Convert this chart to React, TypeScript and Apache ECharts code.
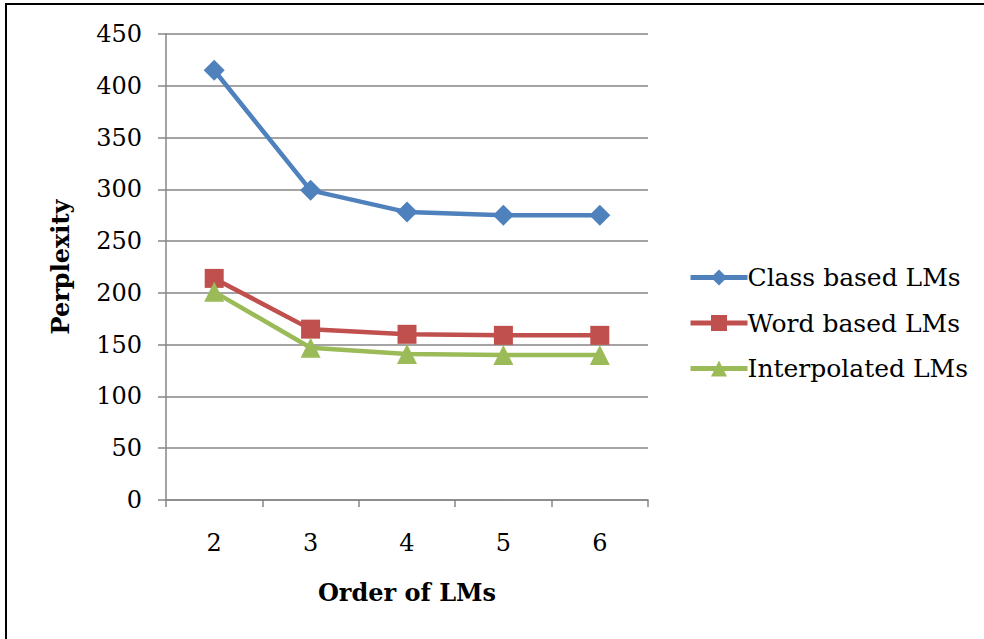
import React, { useEffect, useRef } from "react";
import * as echarts from "echarts";

const categories = ["2", "3", "4", "5", "6"];
const classBased = [415, 299, 278, 275, 275];
const wordBased = [214, 165, 160, 159, 159];
const interpolated = [201, 147, 141, 140, 140];
const seriesNames = ["Class based LMs", "Word based LMs", "Interpolated LMs"];

const FONT = "DejaVu Serif";

export default function App() {
  const ref = useRef<HTMLDivElement>(null);
  useEffect(() => {
    if (!ref.current) return;
    const chart = echarts.init(ref.current, null, { renderer: "svg" });
    const gray = "#868686";
    const mk = (name: string, data: number[], color: string, symbol: string, size: number) => ({
      name,
      type: "line",
      data,
      symbol,
      symbolSize: size,
      lineStyle: { color, width: 4.5 },
      itemStyle: { color },
    });
    chart.setOption({
      animation: false,
      backgroundColor: "#ffffff",
      textStyle: { fontFamily: FONT },
      grid: { left: 166, right: 336, top: 34, bottom: 139 },
      legend: {
        orient: "vertical",
        left: 688,
        top: 265,
        padding: 0,
        itemWidth: 57,
        itemHeight: 20,
        itemGap: 20.5,
        lineStyle: { width: 5 },
        textStyle: { fontFamily: FONT, fontSize: 25, color: "#000", padding: [0, 0, 0, -5] },
        data: seriesNames,
      },
      xAxis: {
        type: "category",
        data: categories,
        boundaryGap: true,
        name: "Order of LMs",
        nameLocation: "middle",
        nameGap: 80,
        nameTextStyle: { fontFamily: FONT, fontSize: 24, fontWeight: "bold", color: "#000" },
        axisLine: { lineStyle: { color: gray, width: 1.5 } },
        axisTick: { show: true, length: 7, lineStyle: { color: gray, width: 1.5 } },
        axisLabel: { fontFamily: FONT, fontSize: 24, color: "#000", margin: 31 },
        splitLine: { show: false },
      },
      yAxis: {
        type: "value",
        min: 0,
        max: 450,
        interval: 50,
        name: "Perplexity",
        nameLocation: "middle",
        nameGap: 94,
        nameRotate: 90,
        nameTextStyle: { fontFamily: FONT, fontSize: 24, fontWeight: "bold", color: "#000" },
        axisLine: { show: true, lineStyle: { color: gray, width: 1.5 } },
        axisTick: { show: true, length: 8, lineStyle: { color: gray, width: 1.5 } },
        axisLabel: { fontFamily: FONT, fontSize: 24, color: "#000", margin: 24 },
        splitLine: { show: true, lineStyle: { color: gray, width: 1.5 } },
      },
      series: [
        mk(seriesNames[0], classBased, "#4F81BD", "diamond", 21),
        mk(seriesNames[1], wordBased, "#C0504D", "rect", 19),
        mk(seriesNames[2], interpolated, "#9BBB59", "triangle", 20),
      ],
      graphic: [
        {
          type: "rect",
          shape: { x: 6, y: 4, width: 1100, height: 800 },
          style: { fill: "none", stroke: "#000", lineWidth: 2 },
          silent: true,
        },
      ],
    });
    return () => chart.dispose();
  }, []);
  return (
    <div
      ref={ref}
      style={{ position: "absolute", left: 0, top: 0, width: 984, height: 639 }}
    />
  );
}
